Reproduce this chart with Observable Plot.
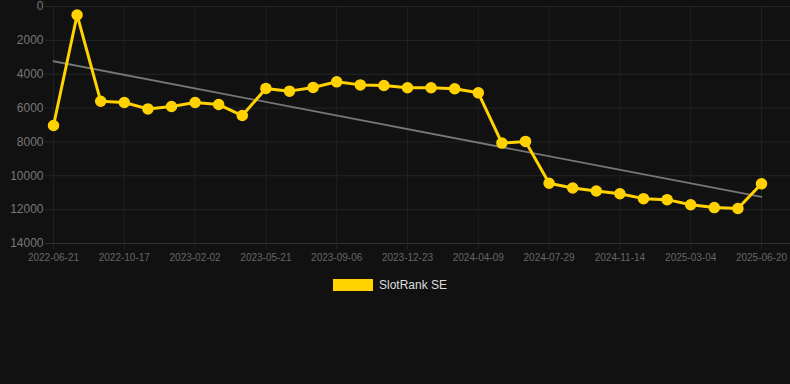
<!DOCTYPE html>
<html>
<head>
<meta charset="utf-8">
<script src="https://cdn.jsdelivr.net/npm/d3@7"></script>
<script src="https://cdn.jsdelivr.net/npm/@observablehq/plot@0.6"></script>
<style>
  html, body { margin: 0; padding: 0; background: #111111; }
  #chart { width: 790px; height: 384px; background: #111111; font-family: Arial, "Liberation Sans", sans-serif; }
  #legend { display: flex; justify-content: center; align-items: center; margin-top: 8px; color: #dddddd; font-size: 12px; transform: translateX(-5px); }
  #legend .sw { width: 40px; height: 12px; background: #FFD200; margin-right: 6px; }
</style>
</head>
<body>
<div id="chart"></div>
<script>
const seriesName = "SlotRank SE";
const tickLabels = ["2022-06-21", "2022-10-17", "2023-02-02", "2023-05-21", "2023-09-06", "2023-12-23", "2024-04-09", "2024-07-29", "2024-11-14", "2025-03-04", "2025-06-20"];
const ranks = [7030, 500, 5600, 5670, 6050, 5910, 5670, 5790, 6440, 4840, 5000, 4780, 4450, 4630, 4670, 4800, 4800, 4860, 5100, 8070, 7970, 10440, 10720, 10900, 11060, 11350, 11410, 11710, 11880, 11930, 10470];
const yTicks = [0, 2000, 4000, 6000, 8000, 10000, 12000, 14000];

const data = ranks.map((v, i) => ({i, v}));
const xTicks = tickLabels.map((_, k) => k * 3);

const plot = Plot.plot({
  width: 790,
  height: 270,
  marginLeft: 45,
  marginRight: 0,
  marginTop: 6,
  marginBottom: 27,
  style: {background: "#111111", color: "#777777", fontFamily: "Arial, 'Liberation Sans', sans-serif"},
  x: {domain: [0, ranks.length - 1], insetLeft: 8, insetRight: 29},
  y: {domain: [0, 14000], reverse: true},
  marks: [
    Plot.gridY(yTicks, {stroke: "#262626", strokeOpacity: 1}),
    Plot.gridX(xTicks, {stroke: "#1f1f1f", strokeOpacity: 1, y2: 14000}),
    Plot.ruleY([14000], {stroke: "#333333"}),
    Plot.axisY(yTicks, {tickSize: 0, tickPadding: 2, fontSize: 12, fill: "#777777", label: null, tickFormat: d => String(d)}),
    Plot.axisX(xTicks, {tickSize: 6, stroke: "#262626", tickPadding: 4, fontSize: 10, fill: "#666666", label: null, tickFormat: d => tickLabels[d / 3]}),
    Plot.linearRegressionY(data, {x: "i", y: "v", ci: 0, stroke: "#777777", strokeWidth: 1.8}),
    Plot.line(data, {x: "i", y: "v", stroke: "#FFD200", strokeWidth: 3}),
    Plot.dot(data, {x: "i", y: "v", r: 5, fill: "#FFD200", stroke: "#FFD200"})
  ]
});
document.getElementById("chart").appendChild(plot);
const legend = document.createElement("div");
legend.id = "legend";
legend.innerHTML = `<span class="sw"></span><span>${seriesName}</span>`;
document.getElementById("chart").appendChild(legend);
</script>
</body>
</html>
